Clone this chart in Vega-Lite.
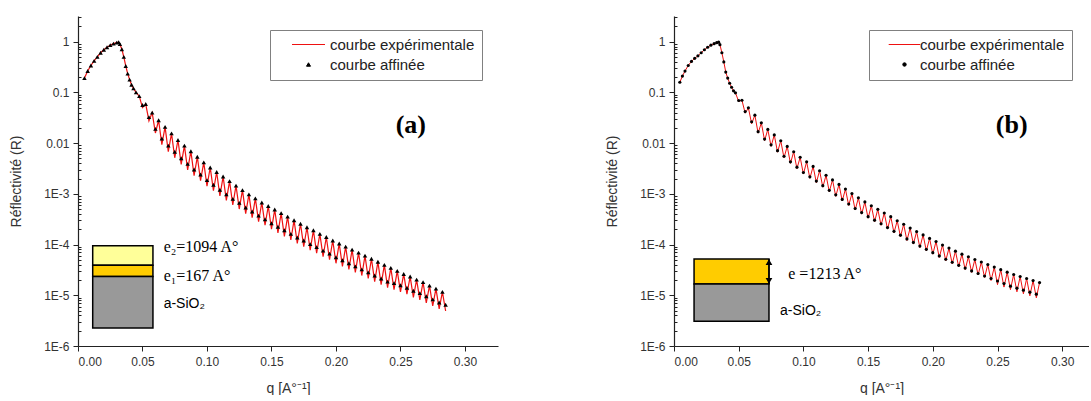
{
  "$schema": "https://vega.github.io/schema/vega-lite/v6.json",
  "padding": {"left": 9, "top": 11, "right": 0, "bottom": 0},
  "spacing": 107,
  "config": {
    "font": "Liberation Sans",
    "view": {"stroke": null},
    "axis": {"domainColor": "#222", "domainWidth": 1.2, "tickColor": "#222", "tickWidth": 1, "grid": false, "labelFont": "Liberation Sans", "labelFontSize": 12, "labelColor": "#333", "titleFont": "Liberation Sans", "titleFontSize": 14, "titleFontWeight": "normal", "titleColor": "#333", "labelOverlap": false}
  },
  "resolve": {"scale": {"color": "independent"}, "legend": {"color": "independent"}},
  "datasets": {
    "a": [
      {"q":0.005,"e":0.191,"f":0.191},{"q":0.0075,"e":0.263,"f":0.263},{"q":0.01,"e":0.339,"f":0.339},{"q":0.0125,"e":0.417,"f":0.417},{"q":0.015,"e":0.501,"f":0.501},{"q":0.0175,"e":0.603,"f":0.603},{"q":0.02,"e":0.692,"f":0.692},{"q":0.0225,"e":0.776,"f":0.776},{"q":0.025,"e":0.851,"f":0.851},{"q":0.0275,"e":0.912,"f":0.912},{"q":0.03,"e":0.955,"f":0.955},{"q":0.0315,"e":0.977,"f":0.977},{"q":0.0325,"e":0.891,"f":0.891},{"q":0.034,"e":0.708,"f":0.708},{"q":0.0355,"e":0.501,"f":0.501},{"q":0.037,"e":0.331,"f":0.331},{"q":0.0385,"e":0.234,"f":0.234},{"q":0.04,"e":0.178,"f":0.178},{"q":0.0415,"e":0.141,"f":0.141},{"q":0.043,"e":0.12,"f":0.12},{"q":0.045,"e":0.1,"f":0.1},
      {"q":0.0475,"e":0.0841,"f":0.0841},{"q":0.05,"e":0.0501,"f":0.0562},{"q":0.0525,"e":0.0589,"f":0.0589},{"q":0.055,"e":0.0275,"f":0.0324},{"q":0.0575,"e":0.0398,"f":0.0398},{"q":0.06,"e":0.0158,"f":0.0191},{"q":0.0625,"e":0.0282,"f":0.0282},{"q":0.065,"e":0.00933,"f":0.0123},{"q":0.0675,"e":0.0209,"f":0.0209},{"q":0.07,"e":0.00676,"f":0.00891},{"q":0.0725,"e":0.0155,"f":0.0155},{"q":0.075,"e":0.00513,"f":0.00676},{"q":0.0775,"e":0.0115,"f":0.0115},{"q":0.08,"e":0.0038,"f":0.00501},{"q":0.0825,"e":0.00891,"f":0.00891},{"q":0.085,"e":0.00295,"f":0.00389},{"q":0.0875,"e":0.00692,"f":0.00692},{"q":0.09,"e":0.00229,"f":0.00302},{"q":0.0925,"e":0.00537,"f":0.00537},{"q":0.095,"e":0.00182,"f":0.0024},{"q":0.0975,"e":0.00417,"f":0.00417},{"q":0.1,"e":0.00141,"f":0.00186},{"q":0.1025,"e":0.00331,"f":0.00331},{"q":0.105,"e":0.00115,"f":0.00151},{"q":0.1075,"e":0.00269,"f":0.00269},{"q":0.11,"e":0.000912,"f":0.0012},{"q":0.1125,"e":0.00219,"f":0.00219},{"q":0.115,"e":0.000741,"f":0.000977},{"q":0.1175,"e":0.00178,"f":0.00178},{"q":0.12,"e":0.000603,"f":0.000794},{"q":0.1225,"e":0.00145,"f":0.00145},{"q":0.125,"e":0.000501,"f":0.000661},{"q":0.1275,"e":0.00118,"f":0.00118},{"q":0.13,"e":0.000407,"f":0.000537},{"q":0.1325,"e":0.000977,"f":0.000977},{"q":0.135,"e":0.000339,"f":0.000447},{"q":0.1375,"e":0.000813,"f":0.000813},{"q":0.14,"e":0.000282,"f":0.000372},{"q":0.1425,"e":0.000676,"f":0.000676},{"q":0.145,"e":0.00024,"f":0.000316},{"q":0.1475,"e":0.000575,"f":0.000575},{"q":0.15,"e":0.0002,"f":0.000263},{"q":0.1525,"e":0.00049,"f":0.00049},{"q":0.155,"e":0.00017,"f":0.000224},{"q":0.1575,"e":0.000417,"f":0.000417},{"q":0.16,"e":0.000145,"f":0.000191},{"q":0.1625,"e":0.000355,"f":0.000355},{"q":0.165,"e":0.000123,"f":0.000162},{"q":0.1675,"e":0.000302,"f":0.000302},{"q":0.17,"e":0.000105,"f":0.000138},{"q":0.1725,"e":0.000257,"f":0.000257},{"q":0.175,"e":9.12e-5,"f":0.00012},{"q":0.1775,"e":0.000219,"f":0.000219},{"q":0.18,"e":7.76e-5,"f":0.000102},{"q":0.1825,"e":0.000191,"f":0.000191},{"q":0.185,"e":6.76e-5,"f":8.91e-5},{"q":0.1875,"e":0.000162,"f":0.000162},{"q":0.19,"e":5.75e-5,"f":7.59e-5},{"q":0.1925,"e":0.000141,"f":0.000141},{"q":0.195,"e":5.01e-5,"f":6.61e-5},{"q":0.1975,"e":0.00012,"f":0.00012},{"q":0.2,"e":4.27e-5,"f":5.62e-5},{"q":0.2025,"e":0.000105,"f":0.000105},{"q":0.205,"e":3.72e-5,"f":4.9e-5},{"q":0.2075,"e":9.12e-5,"f":9.12e-5},{"q":0.21,"e":3.24e-5,"f":4.27e-5},{"q":0.2125,"e":7.94e-5,"f":7.94e-5},{"q":0.215,"e":2.82e-5,"f":3.72e-5},{"q":0.2175,"e":6.92e-5,"f":6.92e-5},{"q":0.22,"e":2.45e-5,"f":3.24e-5},{"q":0.2225,"e":6.03e-5,"f":6.03e-5},{"q":0.225,"e":2.14e-5,"f":2.82e-5},{"q":0.2275,"e":5.25e-5,"f":5.25e-5},{"q":0.23,"e":1.86e-5,"f":2.45e-5},{"q":0.2325,"e":4.57e-5,"f":4.57e-5},{"q":0.235,"e":1.62e-5,"f":2.14e-5},{"q":0.2375,"e":3.98e-5,"f":3.98e-5},{"q":0.24,"e":1.41e-5,"f":1.86e-5},{"q":0.2425,"e":3.47e-5,"f":3.47e-5},{"q":0.245,"e":1.29e-5,"f":1.74e-5},{"q":0.2475,"e":3.02e-5,"f":3.02e-5},{"q":0.25,"e":1.17e-5,"f":1.58e-5},{"q":0.2525,"e":2.63e-5,"f":2.63e-5},{"q":0.255,"e":1.05e-5,"f":1.41e-5},{"q":0.2575,"e":2.34e-5,"f":2.34e-5},{"q":0.26,"e":9.12e-6,"f":1.23e-5},{"q":0.2625,"e":2.04e-5,"f":2.04e-5},{"q":0.265,"e":8.13e-6,"f":1.1e-5},{"q":0.2675,"e":1.82e-5,"f":1.82e-5},{"q":0.27,"e":7.08e-6,"f":9.55e-6},{"q":0.2725,"e":1.55e-5,"f":1.55e-5},{"q":0.275,"e":6.2e-6,"f":8.3e-6},{"q":0.2775,"e":1.35e-5,"f":1.35e-5},{"q":0.28,"e":5.4e-6,"f":7.2e-6},{"q":0.2825,"e":1.17e-5,"f":1.17e-5},{"q":0.285,"e":4.9e-6,"f":6.5e-6}
    ],
    "b": [
      {"q":0.0045,"e":0.158,"f":0.158},{"q":0.0065,"e":0.209,"f":0.209},{"q":0.0085,"e":0.263,"f":0.263},{"q":0.011,"e":0.339,"f":0.339},{"q":0.0135,"e":0.407,"f":0.407},{"q":0.016,"e":0.468,"f":0.468},{"q":0.0185,"e":0.525,"f":0.525},{"q":0.021,"e":0.603,"f":0.603},{"q":0.0235,"e":0.692,"f":0.692},{"q":0.026,"e":0.776,"f":0.776},{"q":0.0285,"e":0.851,"f":0.851},{"q":0.031,"e":0.912,"f":0.912},{"q":0.033,"e":0.955,"f":0.955},{"q":0.0345,"e":0.977,"f":0.977},{"q":0.0355,"e":0.871,"f":0.871},{"q":0.037,"e":0.603,"f":0.603},{"q":0.0385,"e":0.398,"f":0.398},{"q":0.04,"e":0.251,"f":0.251},{"q":0.0415,"e":0.191,"f":0.191},{"q":0.043,"e":0.151,"f":0.151},{"q":0.0445,"e":0.126,"f":0.126},{"q":0.046,"e":0.107,"f":0.107},
      {"q":0.0475,"e":0.0977,"f":0.0977},{"q":0.05,"e":0.0661,"f":0.0692},{"q":0.0525,"e":0.07,"f":0.07},{"q":0.055,"e":0.0389,"f":0.0417},{"q":0.0575,"e":0.0495,"f":0.0495},{"q":0.06,"e":0.024,"f":0.0263},{"q":0.0625,"e":0.0355,"f":0.0355},{"q":0.065,"e":0.0157,"f":0.0168},{"q":0.0675,"e":0.0251,"f":0.0251},{"q":0.07,"e":0.0112,"f":0.012},{"q":0.0725,"e":0.0186,"f":0.0186},{"q":0.075,"e":0.00861,"f":0.00923},{"q":0.0775,"e":0.0145,"f":0.0145},{"q":0.08,"e":0.00661,"f":0.00708},{"q":0.0825,"e":0.0111,"f":0.0111},{"q":0.085,"e":0.00513,"f":0.0055},{"q":0.0875,"e":0.00861,"f":0.00861},{"q":0.09,"e":0.00398,"f":0.00427},{"q":0.0925,"e":0.00676,"f":0.00676},{"q":0.095,"e":0.00313,"f":0.00335},{"q":0.0975,"e":0.00525,"f":0.00525},{"q":0.1,"e":0.00245,"f":0.00263},{"q":0.1025,"e":0.00427,"f":0.00427},{"q":0.105,"e":0.00202,"f":0.00216},{"q":0.1075,"e":0.00347,"f":0.00347},{"q":0.11,"e":0.00166,"f":0.00178},{"q":0.1125,"e":0.00285,"f":0.00285},{"q":0.115,"e":0.00135,"f":0.00145},{"q":0.1175,"e":0.00232,"f":0.00232},{"q":0.12,"e":0.0011,"f":0.00117},{"q":0.1225,"e":0.00188,"f":0.00188},{"q":0.125,"e":0.000891,"f":0.000955},{"q":0.1275,"e":0.00153,"f":0.00153},{"q":0.13,"e":0.000724,"f":0.000776},{"q":0.1325,"e":0.00124,"f":0.00124},{"q":0.135,"e":0.000589,"f":0.000631},{"q":0.1375,"e":0.00101,"f":0.00101},{"q":0.14,"e":0.000479,"f":0.000513},{"q":0.1425,"e":0.000832,"f":0.000832},{"q":0.145,"e":0.000398,"f":0.000427},{"q":0.1475,"e":0.000692,"f":0.000692},{"q":0.15,"e":0.000331,"f":0.000355},{"q":0.1525,"e":0.000582,"f":0.000582},{"q":0.155,"e":0.000282,"f":0.000302},{"q":0.1575,"e":0.000495,"f":0.000495},{"q":0.16,"e":0.00024,"f":0.000257},{"q":0.1625,"e":0.000419,"f":0.000419},{"q":0.165,"e":0.000202,"f":0.000216},{"q":0.1675,"e":0.000355,"f":0.000355},{"q":0.17,"e":0.00017,"f":0.000182},{"q":0.1725,"e":0.000295,"f":0.000295},{"q":0.175,"e":0.000143,"f":0.000153},{"q":0.1775,"e":0.000251,"f":0.000251},{"q":0.18,"e":0.00012,"f":0.000129},{"q":0.1825,"e":0.000211,"f":0.000211},{"q":0.185,"e":0.000102,"f":0.00011},{"q":0.1875,"e":0.00018,"f":0.00018},{"q":0.19,"e":8.71e-5,"f":9.33e-5},{"q":0.1925,"e":0.000155,"f":0.000155},{"q":0.195,"e":7.5e-5,"f":8.04e-5},{"q":0.1975,"e":0.000132,"f":0.000132},{"q":0.2,"e":6.46e-5,"f":6.92e-5},{"q":0.2025,"e":0.000115,"f":0.000115},{"q":0.205,"e":5.56e-5,"f":5.96e-5},{"q":0.2075,"e":9.77e-5,"f":9.77e-5},{"q":0.21,"e":4.79e-5,"f":5.13e-5},{"q":0.2125,"e":8.51e-5,"f":8.51e-5},{"q":0.215,"e":4.17e-5,"f":4.47e-5},{"q":0.2175,"e":7.41e-5,"f":7.41e-5},{"q":0.22,"e":3.63e-5,"f":3.89e-5},{"q":0.2225,"e":6.46e-5,"f":6.46e-5},{"q":0.225,"e":3.2e-5,"f":3.43e-5},{"q":0.2275,"e":5.75e-5,"f":5.75e-5},{"q":0.23,"e":2.82e-5,"f":3.02e-5},{"q":0.2325,"e":5.07e-5,"f":5.07e-5},{"q":0.235,"e":2.51e-5,"f":2.69e-5},{"q":0.2375,"e":4.52e-5,"f":4.52e-5},{"q":0.24,"e":2.24e-5,"f":2.4e-5},{"q":0.2425,"e":4.03e-5,"f":4.03e-5},{"q":0.245,"e":1.95e-5,"f":2.14e-5},{"q":0.2475,"e":3.59e-5,"f":3.59e-5},{"q":0.25,"e":1.62e-5,"f":1.91e-5},{"q":0.2525,"e":3.2e-5,"f":3.2e-5},{"q":0.255,"e":1.45e-5,"f":1.7e-5},{"q":0.2575,"e":2.85e-5,"f":2.85e-5},{"q":0.26,"e":1.29e-5,"f":1.51e-5},{"q":0.2625,"e":2.57e-5,"f":2.57e-5},{"q":0.265,"e":1.17e-5,"f":1.38e-5},{"q":0.2675,"e":2.34e-5,"f":2.34e-5},{"q":0.27,"e":1.07e-5,"f":1.26e-5},{"q":0.2725,"e":2.14e-5,"f":2.14e-5},{"q":0.275,"e":9.77e-6,"f":1.15e-5},{"q":0.2775,"e":1.95e-5,"f":1.95e-5},{"q":0.28,"e":8.91e-6,"f":1.05e-5},{"q":0.2825,"e":1.78e-5,"f":1.78e-5}
    ]
  },
  "hconcat": [
    {
      "width": 420,
      "height": 330,
      "data": {"name": "a"},
      "layer": [
        {
          "mark": {"type": "line", "strokeWidth": 1.2},
          "encoding": {
            "x": {"field": "q", "type": "quantitative", "title": "q [A°⁻¹]", "scale": {"domain": [0, 0.3256], "nice": false, "zero": false},
              "axis": {"values": [0,0.025,0.05,0.075,0.1,0.125,0.15,0.175,0.2,0.225,0.25,0.275,0.3,0.325], "labelExpr": "round(datum.value*1000) % 50 == 0 ? format(datum.value, '.2f') : ''", "tickSize": {"condition": {"test": "round(datum.value*1000) % 50 != 0", "value": 3}, "value": 5}, "labelPadding": 5, "titlePadding": 14}},
            "y": {"field": "e", "type": "quantitative", "title": "Réflectivité (R)", "scale": {"type": "log", "domain": [1e-6, 3.2], "nice": false},
              "axis": {"values": [1e-6,2e-6,3e-6,4e-6,5e-6,6e-6,7e-6,8e-6,9e-6,1e-5,2e-5,3e-5,4e-5,5e-5,6e-5,7e-5,8e-5,9e-5,1e-4,2e-4,3e-4,4e-4,5e-4,6e-4,7e-4,8e-4,9e-4,0.001,0.002,0.003,0.004,0.005,0.006,0.007,0.008,0.009,0.01,0.02,0.03,0.04,0.05,0.06,0.07,0.08,0.09,0.1,0.2,0.3,0.4,0.5,0.6,0.7,0.8,0.9,1,2,3],
                "labelExpr": "abs(log(datum.value)/LN10 - round(log(datum.value)/LN10)) > 0.01 ? '' : (datum.value >= 0.01 ? '' + datum.value : '1E' + round(log(datum.value)/LN10))",
                "tickSize": {"condition": {"test": "abs(log(datum.value)/LN10 - round(log(datum.value)/LN10)) > 0.01", "value": -3}, "value": 5},
                "labelPadding": 4, "titlePadding": 20}},
            "color": {"datum": "courbe expérimentale", "scale": {"domain": ["courbe expérimentale", "courbe affinée"], "range": ["#ee1111", "#000000"]},
              "legend": {"title": null, "orient": "none", "legendX": 192, "legendY": 14, "padding": 7, "strokeColor": "#808080", "fillColor": "#ffffff", "labelFont": "Liberation Sans", "labelFontSize": 15, "labelColor": "#222", "labelOffset": 14, "rowPadding": 4, "symbolSize": 16, "symbolOffset": 24, "symbolStrokeWidth": 1,
                "encode": {"symbols": {"update": {
                  "shape": {"signal": "datum.value === 'courbe affinée' ? 'triangle-up' : 'M-8.25,0L8.25,0'"},
                  "size": {"value": 16},
                  "stroke": {"signal": "datum.value === 'courbe affinée' ? 'transparent' : '#ee1111'"},
                  "fill": {"signal": "datum.value === 'courbe affinée' ? '#000000' : 'transparent'"},
                  "strokeWidth": {"value": 1},
                  "opacity": {"value": 1}}}}}}
          }
        },
        {
          "mark": {"type": "point", "shape": "triangle-up", "filled": true, "size": 20, "opacity": 1},
          "encoding": {
            "x": {"field": "q", "type": "quantitative", "title": "q [A°⁻¹]"},
            "y": {"field": "f", "type": "quantitative", "title": "Réflectivité (R)"},
            "color": {"datum": "courbe affinée"}
          }
        },
        {
          "data": {"values": [{}]},
          "mark": {"type": "rect", "fill": "#ffff99", "stroke": "#000", "strokeWidth": 1.5},
          "encoding": {"x": {"datum": 0.0114}, "x2": {"datum": 0.0581}, "y": {"datum": 9.5e-5}, "y2": {"datum": 3.9e-5}}
        },
        {
          "data": {"values": [{}]},
          "mark": {"type": "rect", "fill": "#ffcc00", "stroke": "#000", "strokeWidth": 1.5},
          "encoding": {"x": {"datum": 0.0114}, "x2": {"datum": 0.0581}, "y": {"datum": 3.9e-5}, "y2": {"datum": 2.34e-5}}
        },
        {
          "data": {"values": [{}]},
          "mark": {"type": "rect", "fill": "#999999", "stroke": "#000", "strokeWidth": 1.5},
          "encoding": {"x": {"datum": 0.0114}, "x2": {"datum": 0.0581}, "y": {"datum": 2.34e-5}, "y2": {"datum": 2.26e-6}}
        },
        {
          "data": {"values": [{}]},
          "mark": {"type": "text", "text": "e₂=1094 A°", "font": "Liberation Serif", "fontSize": 16, "align": "left", "baseline": "middle", "color": "#000"},
          "encoding": {"x": {"datum": 0.0664}, "y": {"datum": 8.9e-5}}
        },
        {
          "data": {"values": [{}]},
          "mark": {"type": "text", "text": "e₁=167 A°", "font": "Liberation Serif", "fontSize": 16, "align": "left", "baseline": "middle", "color": "#000"},
          "encoding": {"x": {"datum": 0.0664}, "y": {"datum": 2.35e-5}}
        },
        {
          "data": {"values": [{}]},
          "mark": {"type": "text", "text": "a-SiO₂", "font": "Liberation Sans", "fontSize": 14, "align": "left", "baseline": "middle", "color": "#000"},
          "encoding": {"x": {"datum": 0.0664}, "y": {"datum": 6.7e-6}}
        },
        {
          "data": {"values": [{}]},
          "mark": {"type": "text", "text": "(a)", "font": "Liberation Serif", "fontSize": 26, "fontWeight": "bold", "align": "center", "baseline": "middle", "color": "#000"},
          "encoding": {"x": {"datum": 0.258}, "y": {"datum": 0.023}}
        }
      ]
    },
    {
      "width": 415,
      "height": 330,
      "data": {"name": "b"},
      "layer": [
        {
          "mark": {"type": "line", "strokeWidth": 1},
          "encoding": {
            "x": {"field": "q", "type": "quantitative", "title": "q [A°⁻¹]", "scale": {"domain": [0, 0.3207], "nice": false, "zero": false},
              "axis": {"values": [0,0.025,0.05,0.075,0.1,0.125,0.15,0.175,0.2,0.225,0.25,0.275,0.3], "labelExpr": "round(datum.value*1000) % 50 == 0 ? format(datum.value, '.2f') : ''", "tickSize": {"condition": {"test": "round(datum.value*1000) % 50 != 0", "value": 3}, "value": 5}, "labelPadding": 5, "titlePadding": 14}},
            "y": {"field": "e", "type": "quantitative", "title": "Réflectivité (R)", "scale": {"type": "log", "domain": [1e-6, 3.2], "nice": false},
              "axis": {"values": [1e-6,2e-6,3e-6,4e-6,5e-6,6e-6,7e-6,8e-6,9e-6,1e-5,2e-5,3e-5,4e-5,5e-5,6e-5,7e-5,8e-5,9e-5,1e-4,2e-4,3e-4,4e-4,5e-4,6e-4,7e-4,8e-4,9e-4,0.001,0.002,0.003,0.004,0.005,0.006,0.007,0.008,0.009,0.01,0.02,0.03,0.04,0.05,0.06,0.07,0.08,0.09,0.1,0.2,0.3,0.4,0.5,0.6,0.7,0.8,0.9,1,2,3],
                "labelExpr": "abs(log(datum.value)/LN10 - round(log(datum.value)/LN10)) > 0.01 ? '' : (datum.value >= 0.01 ? '' + datum.value : '1E' + round(log(datum.value)/LN10))",
                "tickSize": {"condition": {"test": "abs(log(datum.value)/LN10 - round(log(datum.value)/LN10)) > 0.01", "value": -3}, "value": 5},
                "labelPadding": 4, "titlePadding": 20}},
            "color": {"datum": "courbe expérimentale", "scale": {"domain": ["courbe expérimentale", "courbe affinée"], "range": ["#ee1111", "#000000"]},
              "legend": {"title": null, "orient": "none", "legendX": 195, "legendY": 14, "padding": 7, "strokeColor": "#808080", "fillColor": "#ffffff", "labelFont": "Liberation Sans", "labelFontSize": 15, "labelColor": "#222", "labelOffset": 8, "rowPadding": 4, "symbolSize": 16, "symbolOffset": 21, "symbolStrokeWidth": 1,
                "encode": {"symbols": {"update": {
                  "shape": {"signal": "datum.value === 'courbe affinée' ? 'circle' : 'M-7.9,0L7.9,0'"},
                  "size": {"signal": "datum.value === 'courbe affinée' ? 12 : 16"},
                  "stroke": {"signal": "datum.value === 'courbe affinée' ? 'transparent' : '#ee1111'"},
                  "fill": {"signal": "datum.value === 'courbe affinée' ? '#000000' : 'transparent'"},
                  "strokeWidth": {"value": 1},
                  "opacity": {"value": 1}}}}}}
          }
        },
        {
          "mark": {"type": "point", "shape": "circle", "filled": true, "size": 10, "opacity": 1},
          "encoding": {
            "x": {"field": "q", "type": "quantitative", "title": "q [A°⁻¹]"},
            "y": {"field": "f", "type": "quantitative", "title": "Réflectivité (R)"},
            "color": {"datum": "courbe affinée"}
          }
        },
        {
          "data": {"values": [{}]},
          "mark": {"type": "rect", "fill": "#ffcc00", "stroke": "#000", "strokeWidth": 1.5},
          "encoding": {"x": {"datum": 0.0155}, "x2": {"datum": 0.0734}, "y": {"datum": 5.2e-5}, "y2": {"datum": 1.66e-5}}
        },
        {
          "data": {"values": [{}]},
          "mark": {"type": "rect", "fill": "#999999", "stroke": "#000", "strokeWidth": 1.5},
          "encoding": {"x": {"datum": 0.0155}, "x2": {"datum": 0.0734}, "y": {"datum": 1.66e-5}, "y2": {"datum": 3.07e-6}}
        },
        {
          "data": {"values": [{}]},
          "mark": {"type": "rule", "stroke": "#000", "strokeWidth": 1.5},
          "encoding": {"x": {"datum": 0.0734}, "y": {"datum": 5.2e-5}, "y2": {"datum": 1.66e-5}}
        },
        {
          "data": {"values": [{}]},
          "mark": {"type": "point", "shape": "triangle-up", "filled": true, "size": 45, "color": "#000", "opacity": 1},
          "encoding": {"x": {"datum": 0.0734}, "y": {"datum": 4.5e-5}}
        },
        {
          "data": {"values": [{}]},
          "mark": {"type": "point", "shape": "triangle-down", "filled": true, "size": 45, "color": "#000", "opacity": 1},
          "encoding": {"x": {"datum": 0.0734}, "y": {"datum": 1.93e-5}}
        },
        {
          "data": {"values": [{}]},
          "mark": {"type": "text", "text": "e =1213 A°", "font": "Liberation Serif", "fontSize": 16, "align": "left", "baseline": "middle", "color": "#000"},
          "encoding": {"x": {"datum": 0.0883}, "y": {"datum": 2.64e-5}}
        },
        {
          "data": {"values": [{}]},
          "mark": {"type": "text", "text": "a-SiO₂", "font": "Liberation Sans", "fontSize": 14, "align": "left", "baseline": "middle", "color": "#000"},
          "encoding": {"x": {"datum": 0.0819}, "y": {"datum": 5.0e-6}}
        },
        {
          "data": {"values": [{}]},
          "mark": {"type": "text", "text": "(b)", "font": "Liberation Serif", "fontSize": 26, "fontWeight": "bold", "align": "center", "baseline": "middle", "color": "#000"},
          "encoding": {"x": {"datum": 0.261}, "y": {"datum": 0.0224}}
        }
      ]
    }
  ]
}
